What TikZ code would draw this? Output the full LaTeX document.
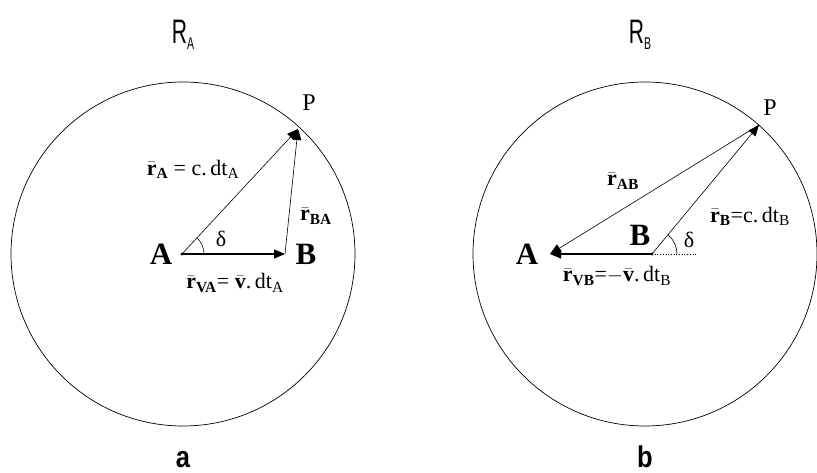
\documentclass[tikz,border=0pt]{standalone}
\usepackage{amsmath}
\usepackage{fontspec}
\setmainfont{Liberation Serif}
\setsansfont{Liberation Sans}
\usetikzlibrary{arrows.meta}
\newcommand\vr[1]{$\bar{\text{\bfseries r}}_{\text{\bfseries #1}}$}
\newcommand\vv{$\bar{\text{\bfseries v}}$}
\newcommand\sub[1]{$_{\text{#1}}$}
\begin{document}
\begin{tikzpicture}[x=1pt,y=1pt,
  lbl/.style={font=\fontsize{22}{22}\selectfont, inner sep=0pt},
  ptl/.style={font=\bfseries\fontsize{31}{31}\selectfont, inner sep=0pt},
  ttl/.style={font=\sffamily\fontsize{34}{34}\selectfont, inner sep=0pt},
  capl/.style={font=\sffamily\bfseries\fontsize{30}{30}\selectfont, inner sep=0pt, anchor=base},
  pl/.style={font=\fontsize{24}{24}\selectfont, inner sep=0pt},
  ring/.style={circle, draw, minimum size=344pt, inner sep=0pt, line width=0.7pt},
  vecarrow/.style={-{Triangle[length=11pt,width=9pt]}, line width=0.6pt},
  heavy/.style={line width=1.4pt}]
\useasboundingbox (0,0) rectangle (817,472);
% ---- panel a ----
\node[ring] (cA) at (183,218) {};
\coordinate (A) at (182,218);
\coordinate (B) at (285,218);
\coordinate (P) at (298,343);
\fill (A) circle (1.6pt);
\draw[vecarrow, heavy] (A) -- (B);
\draw[vecarrow] (A) -- (P);
\draw[vecarrow] (B) -- (P);
\draw[line width=0.6pt] (A) ++(22,0) arc[start angle=0, end angle=47, radius=22];
\node[ttl] (RA) at (183,437) {\scalebox{0.62}[1]{R\raisebox{-6pt}{\fontsize{17}{17}\selectfont A}}};
\node[capl] (la) at (183,5) {\scalebox{0.85}[1]{a}};
\node[ptl] (nA) at (161,218) {A};
\node[ptl] (nB) at (306,218) {B};
\node[lbl] (dA) at (221,233) {δ};
\node[pl] (nP) at (309,369) {P};
\node[lbl] (rA) at (193,303) {\vr{A} = c.\,dt\sub{A}};
\node[lbl] (rBA) at (316,256) {\vr{BA}};
\node[lbl] (rVA) at (235,189) {\vr{VA}= \vv.\,dt\sub{A}};
% ---- panel b ----
\node[ring] (cB) at (645,218) {};
\coordinate (A2) at (550,218);
\coordinate (B2) at (652,218);
\coordinate (P2) at (759,347);
\coordinate (D2) at (697,218);
\fill (B2) circle (1.6pt);
\draw[dotted, line width=0.7pt] (B2) -- (D2);
\draw[vecarrow, heavy] (B2) -- (A2);
\draw[vecarrow] (B2) -- (P2);
\draw[vecarrow] (P2) -- (A2);
\draw[line width=0.6pt] (B2) ++(25,0) arc[start angle=0, end angle=50, radius=25];
\node[ttl] (RB) at (640,437) {\scalebox{0.62}[1]{R\raisebox{-6pt}{\fontsize{17}{17}\selectfont B}}};
\node[capl] (lb) at (645,5) {\scalebox{0.85}[1]{b}};
\node[ptl] (nA2) at (527,218) {A};
\node[ptl] (nB2) at (640,237) {B};
\node[lbl] (dB) at (689,232) {δ};
\node[pl] (nP2) at (770,364) {P};
\node[lbl] (rAB) at (623,291) {\vr{AB}};
\node[lbl] (rB) at (750,256) {\vr{B}=c.\,dt\sub{B}};
\node[lbl] (rVB) at (617,196) {\vr{VB}=$-$\vv.\,dt\sub{B}};
\end{tikzpicture}
\end{document}
